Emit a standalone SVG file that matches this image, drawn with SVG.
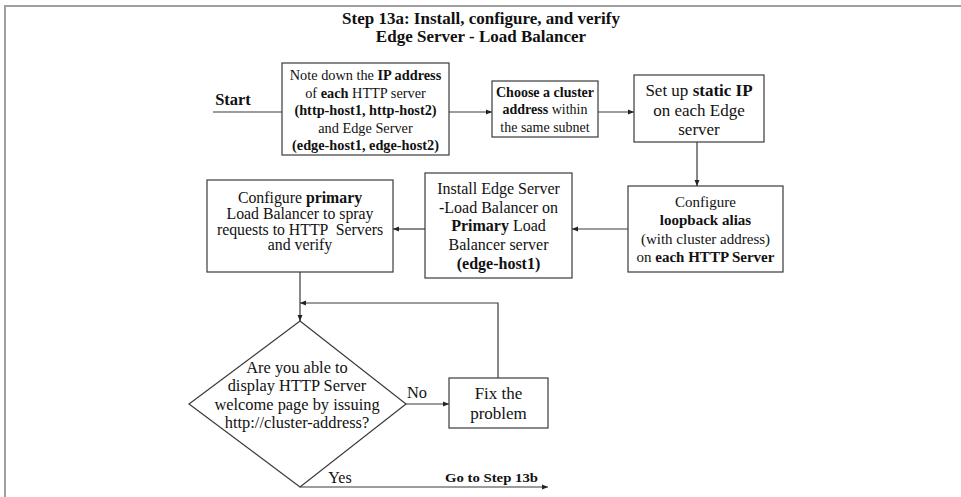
<svg xmlns="http://www.w3.org/2000/svg" width="961" height="497" viewBox="0 0 961 497">
<defs>
<marker id="ah" markerWidth="8" markerHeight="8" refX="7" refY="4" orient="auto" markerUnits="userSpaceOnUse">
<path d="M1,1.5 L7,4 L1,6.5 Z" fill="#222"/>
</marker>
<style>
.box{fill:#fff;stroke:#3a3a3a;stroke-width:1.2}
.ln{fill:none;stroke:#3a3a3a;stroke-width:1.2}
.t{font-family:"Liberation Serif","Times New Roman",serif;fill:#111;text-anchor:middle}
.b{font-weight:bold}
.frame{fill:none;stroke:#a0a0a0;stroke-width:2}
</style>
</defs>
<rect width="961" height="497" fill="#fff"/>
<path class="frame" d="M5,497 L5,6 L961,6"/>
<g id="title">
<text class="t b" x="481" y="24" font-size="17">Step 13a: Install, configure, and verify</text>
<text class="t b" x="481" y="42" font-size="17">Edge Server - Load Balancer</text>
</g>
<g id="start">
<text class="t b" x="233" y="105" font-size="16.5">Start</text>
</g>
<g id="note">
<rect class="box" x="282" y="63" width="167" height="92"/>
<text class="t" font-size="14.3" x="365.5" y="80">Note down the <tspan class="b">IP address</tspan></text>
<text class="t" font-size="14.3" x="365.5" y="97.5">of <tspan class="b">each</tspan> HTTP server</text>
<text class="t b" font-size="14.3" x="365.5" y="115">(http-host1, http-host2)</text>
<text class="t" font-size="14.3" x="365.5" y="132.5">and Edge Server</text>
<text class="t b" font-size="14.3" x="365.5" y="149.5">(edge-host1, edge-host2)</text>
</g>
<g id="cluster">
<rect class="box" x="492" y="81" width="106" height="56"/>
<text class="t" font-size="14" x="545" y="97"><tspan class="b">Choose a cluster</tspan></text>
<text class="t" font-size="14" x="545" y="114"><tspan class="b">address</tspan> within</text>
<text class="t" font-size="14" x="545" y="132">the same subnet</text>
</g>
<g id="staticip">
<rect class="box" x="634" y="75" width="130" height="67"/>
<text class="t" font-size="17" x="699" y="95.5">Set up <tspan class="b">static IP</tspan></text>
<text class="t" font-size="17" x="699" y="115.5">on each Edge</text>
<text class="t" font-size="17" x="699" y="135">server</text>
</g>
<g id="loopback">
<rect class="box" x="628" y="186" width="155" height="86"/>
<text class="t" font-size="15" x="705.5" y="207">Configure</text>
<text class="t b" font-size="15" x="705.5" y="225">loopback alias</text>
<text class="t" font-size="15" x="705.5" y="244">(with cluster address)</text>
<text class="t" font-size="15" x="705.5" y="262">on <tspan class="b">each HTTP Server</tspan></text>
</g>
<g id="install">
<rect class="box" x="425" y="173" width="147" height="105"/>
<text class="t" font-size="16" x="498.5" y="194">Install Edge Server</text>
<text class="t" font-size="16" x="498.5" y="212.5">-Load Balancer on</text>
<text class="t" font-size="16" x="498.5" y="231"><tspan class="b">Primary</tspan> Load</text>
<text class="t" font-size="16" x="498.5" y="249.5">Balancer server</text>
<text class="t b" font-size="16" x="498.5" y="268.5">(edge-host1)</text>
</g>
<g id="configure">
<rect class="box" x="207" y="180" width="186" height="92"/>
<text class="t" font-size="15.8" x="300" y="203">Configure <tspan class="b">primary</tspan></text>
<text class="t" font-size="15.8" x="300" y="218.5">Load Balancer to spray</text>
<text class="t" font-size="15.8" x="300" y="234.5" xml:space="preserve">requests to HTTP  Servers</text>
<text class="t" font-size="15.8" x="300" y="250">and verify</text>
</g>
<g id="decision">
<path class="box" d="M300,321 L406,404 L300,487 L189,404 Z"/>
<text class="t" font-size="16.4" x="297" y="372.5">Are you able to</text>
<text class="t" font-size="16.4" x="297" y="391">display HTTP Server</text>
<text class="t" font-size="16.4" x="297" y="409.5">welcome page by issuing</text>
<text class="t" font-size="16.4" x="297" y="428">http://cluster-address?</text>
</g>
<g id="fix">
<rect class="box" x="449" y="378" width="99" height="50"/>
<text class="t" font-size="17" x="498.5" y="399">Fix the</text>
<text class="t" font-size="17" x="498.5" y="419">problem</text>
</g>
<g id="connectors">
<path class="ln" d="M213,112 L282,112"/>
<path class="ln" d="M449,112 L492,112" marker-end="url(#ah)"/>
<path class="ln" d="M598,112 L634,112" marker-end="url(#ah)"/>
<path class="ln" d="M697,142 L697,186" marker-end="url(#ah)"/>
<path class="ln" d="M628,229 L572,229" marker-end="url(#ah)"/>
<path class="ln" d="M425,229 L393,229" marker-end="url(#ah)"/>
<path class="ln" d="M300,272 L300,321" marker-end="url(#ah)"/>
<path class="ln" d="M406,404 L449,404" marker-end="url(#ah)"/>
<path class="ln" d="M498,378 L498,303 L300,303" marker-end="url(#ah)"/>
<path class="ln" d="M300,487 L548,487" marker-end="url(#ah)"/>
<text class="t" font-size="16.4" x="417" y="398">No</text>
<text class="t" font-size="16" x="340" y="483">Yes</text>
<text class="t b" font-size="12.5" x="491.5" y="482" textLength="93" lengthAdjust="spacingAndGlyphs">Go to Step 13b</text>
</g>
</svg>
